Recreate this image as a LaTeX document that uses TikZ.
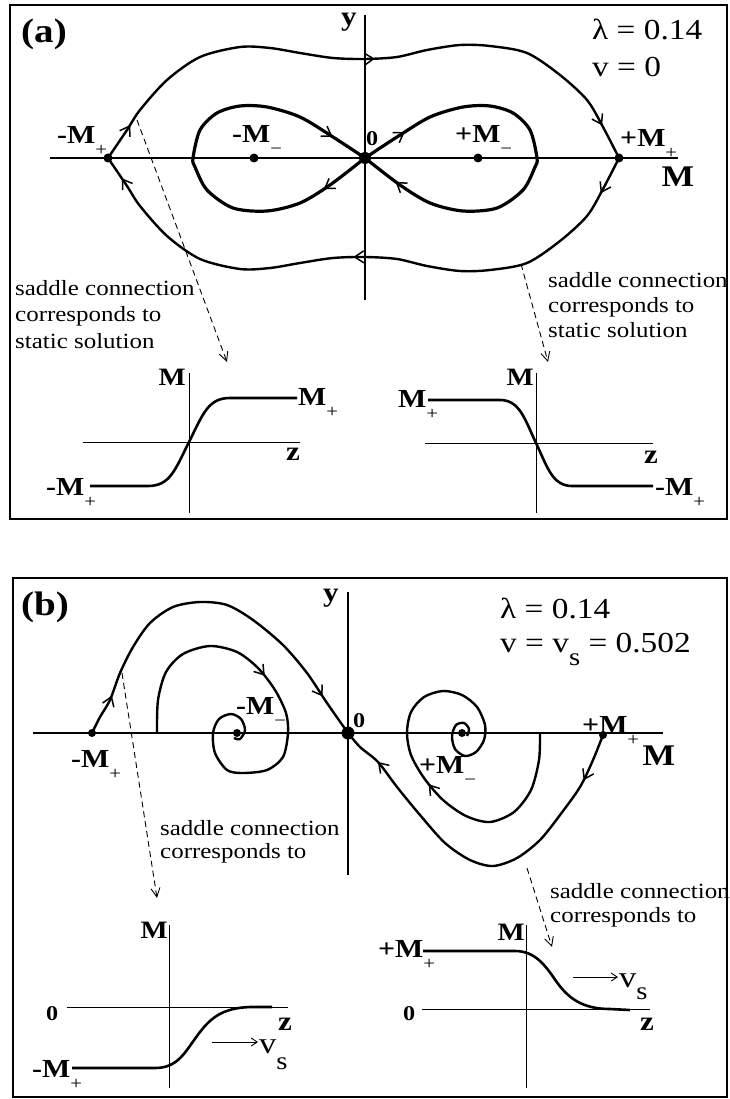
\documentclass[tikz,border=0pt]{standalone}
\usepackage{fontspec}
\setmainfont{Liberation Serif}[FakeStretch=1.15]
\usetikzlibrary{arrows.meta}
\usetikzlibrary{decorations.markings}

\newcommand{\lo}[1]{\raisebox{-12pt}{\fontsize{18}{18}\selectfont\mdseries #1}}
\newcommand{\fp}[2]{\textbf{#1}\lo{#2}}
\newcommand{\vs}[1]{v\raisebox{-#1}{\fontsize{25}{25}\selectfont s}}

\tikzset{
  panel/.style={line width=2.2pt},
  axis/.style={line width=1.2pt},
  faxis/.style={line width=0.9pt},
  orbit/.style={line width=2.4pt, line join=round},
  eight/.style={line width=3.2pt, line join=round},
  profile/.style={line width=2.6pt},
  fixpt/.style={circle, fill, inner sep=0pt, minimum size=#1},
  fixpt/.default=9pt,
  flow/.style={postaction={decorate, decoration={markings,
      mark=at position #1 with {\arrow{Straight Barb[length=9pt,width=12pt,line width=1.5pt]}}}}},
  hint/.style={dash pattern=on 6pt off 4pt, line width=0.9pt,
      -{Straight Barb[length=9pt,width=9pt,line width=0.9pt]}},
  speed/.style={line width=0.9pt, -{Straight Barb[length=6pt,width=8pt,line width=0.9pt]}},
  lbl/.style={inner sep=0pt, font=\fontsize{#1}{#1}\selectfont\bfseries},
  lbl/.default=26,
  note/.style={inner sep=0pt, align=left, font=\fontsize{21.7}{#1}\selectfont},
  note/.default=26,
}

\begin{document}
\begin{tikzpicture}[x=1pt, y=-1pt]
\useasboundingbox (0,0) rectangle (729,1099);

% ================= (a) v = 0 =================
\draw[panel] (10,5) rectangle (727,519);
\node[lbl=34, anchor=base west] (atag) at (21,43) {(a)};
\node[inner sep=0pt, align=left, anchor=base west, font=\fontsize{29}{37}\selectfont] (apar) at (592,77) {λ = 0.14\\v = 0};

\coordinate (aO)  at (365,158);
\coordinate (aSL) at (108,158);
\coordinate (aSR) at (619,158);
\coordinate (aCL) at (254,158);
\coordinate (aCR) at (478,158);

% axes
\draw[axis] (50,158) -- (678,158);
\draw[axis] (365,15) -- (365,300);
\node[lbl=30, anchor=base] (aMlab) at (678,187) {M};
\node[lbl=27, anchor=base] (aylab) at (349,26) {y};
\node[lbl=21, anchor=base west] (a0lab) at (366,146) {0};

% separatrices
\draw[orbit, flow=0.065, flow=0.515, flow=0.94] plot[smooth] coordinates {(aSL) (127,130) (140,110) (167,80) (200,57) (240,47) (270,48) (300,53) (333,58) (365,59) (397,57) (427,50) (460,45) (490,46) (527,53) (560,75) (587,100) (603,127) (aSR)};
\draw[orbit, flow=0.065, flow=0.52, flow=0.96] plot[smooth] coordinates {(aSR) (603,189) (587,216) (560,241) (527,263) (490,270) (460,271) (427,266) (397,259) (365,257) (333,258) (300,263) (270,268) (240,269) (200,259) (167,236) (140,206) (127,186) (aSL)};

% homoclinic loops
\draw[eight, flow=0.12, flow=0.91] plot[smooth] coordinates {(aO) (330,185) (300,203) (267,211) (233,208) (207,190) (195,167) (193,158) (200,130) (217,113) (240,106) (267,107) (300,117) (333,137) (aO)};
\draw[eight, flow=0.11, flow=0.91] plot[smooth] coordinates {(aO) (397,137) (430,117) (463,107) (490,106) (513,113) (530,130) (537,158) (535,167) (523,190) (497,208) (463,211) (430,203) (400,185) (aO)};

\node[fixpt=12pt] (aOdot) at (aO) {};
\node[fixpt] (aSLdot) at (aSL) {};
\node[fixpt] (aSRdot) at (aSR) {};
\node[fixpt] (aCLdot) at (aCL) {};
\node[fixpt] (aCRdot) at (aCR) {};
\node[lbl, anchor=base west] (aSLlab) at (57,144) {\fp{-M}{+}};
\node[lbl, anchor=base west] (aCLlab) at (232,143) {\fp{-M}{−}};
\node[lbl, anchor=base west] (aCRlab) at (455,143) {\fp{+M}{−}};
\node[lbl, anchor=base west] (aSRlab) at (620,147) {\fp{+M}{+}};

% remarks
\node[note=26.5, anchor=base west] (anoteL) at (15,348) {saddle connection\\corresponds to\\static solution};
\node[note=25, anchor=base west] (anoteR) at (548,337) {saddle connection\\corresponds to\\static solution};
\coordinate (aHL0) at (137,120);
\coordinate (aHL1) at (227,362);
\coordinate (aHR0) at (521,264);
\coordinate (aHR1) at (548,362);
\draw[hint] (aHL0) -- (aHL1);
\draw[hint] (aHR0) -- (aHR1);

% kink profile
\draw[faxis] (83,442) -- (300,442);
\draw[faxis] (189,373) -- (189,513);
\draw[profile] (90,486) -- (148,486) .. controls (170,486) and (175,470) .. (189,442) .. controls (203,414) and (208,398) .. (230,398) -- (297,398);
\node[lbl=25, anchor=base east] (akMl) at (186,385) {M};
\node[lbl=27, anchor=base] (akzl) at (293,460) {z};
\node[lbl, anchor=base west] (akTl) at (298,405) {\fp{M}{+}};
\node[lbl, anchor=base west] (akBl) at (46,495) {\fp{-M}{+}};

% antikink profile
\draw[faxis] (425,443) -- (653,443);
\draw[faxis] (536,373) -- (536,513);
\draw[profile] (428,400) -- (500,400) .. controls (520,400) and (525,420) .. (536,443) .. controls (547,466) and (552,486) .. (572,486) -- (653,486);
\node[lbl=25, anchor=base east] (akMr) at (534,385) {M};
\node[lbl=27, anchor=base] (akzr) at (651,463) {z};
\node[lbl, anchor=base west] (akTr) at (398,407) {\fp{M}{+}};
\node[lbl, anchor=base west] (akBr) at (655,495) {\fp{-M}{+}};

% ================= (b) v = v_s =================
\draw[panel] (13,578) rectangle (727,1097);
\node[lbl=34, anchor=base west] (btag) at (21,615) {(b)};
\node[inner sep=0pt, align=left, anchor=base west, font=\fontsize{29}{34}\selectfont] (bpar) at (500,652) {λ = 0.14\\v = \vs{13pt} = 0.502};

\coordinate (bO)  at (348,733);
\coordinate (bSL) at (92,733);
\coordinate (bSR) at (603,735);
\coordinate (bCL) at (237,733);
\coordinate (bCR) at (462,733);

\draw[axis] (33,733) -- (663,733);
\draw[axis] (348,592) -- (348,875);
\node[lbl=30, anchor=base] (bMlab) at (659,765) {M};
\node[lbl=27, anchor=base] (bylab) at (331,601) {y};
\node[lbl=21, anchor=base west] (b0lab) at (353,727) {0};

% saddle connections into 0
\draw[orbit, flow=0.11, flow=0.885] plot[smooth] coordinates {(bSL) (100,717) (110,700) (120,673) (133,647) (150,623) (173,607) (200,602) (227,605) (253,620) (283,645) (307,673) (327,703) (bO)};
\draw[orbit, flow=0.13, flow=0.89] plot[smooth] coordinates {(bSR) (593,760) (580,787) (560,815) (540,840) (517,858) (493,866) (470,860) (445,843) (420,815) (397,787) (378,762) (360,747) (bO)};

% spirals
\draw[orbit, flow=0.41] plot[smooth] coordinates {(157,733) (158,700) (166,672) (183,654) (210,646) (237,652) (258,668) (275,690) (286,713) (288,733) (283,757) (267,770) (243,773) (227,770) (215,753) (213,733) (219,719) (231,714) (241,719) (245,730) (240,739) (234,738)};
\draw[orbit, flow=0.40] plot[smooth] coordinates {(540,733) (539,760) (531,790) (514,812) (490,822) (466,816) (443,800) (424,778) (411,755) (407,733) (411,712) (424,697) (443,691) (462,695) (477,707) (485,725) (484,740) (476,752) (465,756) (455,749) (452,736) (456,725) (464,723) (469,729) (467,736)};

\node[fixpt=13pt] (bOdot) at (bO) {};
\node[fixpt=8pt] (bSLdot) at (bSL) {};
\node[fixpt=8pt] (bSRdot) at (bSR) {};
\node[fixpt=8pt] (bCLdot) at (bCL) {};
\node[fixpt=8pt] (bCRdot) at (bCR) {};
\node[lbl, anchor=base west] (bSLlab) at (71,767) {\fp{-M}{+}};
\node[lbl, anchor=base west] (bCLlab) at (236,714) {\fp{-M}{−}};
\node[lbl, anchor=base west] (bCRlab) at (419,773) {\fp{+M}{−}};
\node[lbl, anchor=base west] (bSRlab) at (582,733) {\fp{+M}{+}};

% remarks
\node[note=23, anchor=base west] (bnoteL) at (160,858) {saddle connection\\corresponds to};
\node[note=24, anchor=base west] (bnoteR) at (550,922) {saddle connection\\corresponds to};
\coordinate (bHL0) at (122,673);
\coordinate (bHL1) at (157,898);
\coordinate (bHR0) at (527,868);
\coordinate (bHR1) at (552,947);
\draw[hint] (bHL0) -- (bHL1);
\draw[hint] (bHR0) -- (bHR1);

% travelling front -M+ -> 0
\draw[faxis] (67,1007) -- (288,1007);
\draw[faxis] (169,925) -- (169,1088);
\draw[profile] (72,1068) -- (155,1068) .. controls (178,1068) and (185,1052) .. (197,1036) .. controls (210,1018) and (222,1008) .. (250,1007) -- (272,1007);
\node[lbl=25, anchor=base east] (bfMl) at (168,938) {M};
\node[lbl=27, anchor=base] (bfzl) at (285,1030) {z};
\node[lbl=21, anchor=base west] (bf0l) at (46,1020) {0};
\node[lbl, anchor=base west] (bfBl) at (32,1077) {\fp{-M}{+}};
\coordinate (bvL0) at (212,1042);
\coordinate (bvL1) at (258,1042);
\draw[speed] (bvL0) -- (bvL1);
\node[inner sep=0pt, anchor=base west, font=\fontsize{30}{30}\selectfont] (bvLl) at (259,1053) {\vs{16pt}};

% travelling front +M+ -> 0
\draw[faxis] (422,1009) -- (650,1009);
\draw[faxis] (526,925) -- (526,1088);
\draw[profile] (423,951) -- (515,951) .. controls (535,951) and (545,965) .. (556,981) .. controls (568,998) and (582,1009) .. (610,1009) -- (630,1010);
\node[lbl=25, anchor=base east] (bfMr) at (525,940) {M};
\node[lbl=27, anchor=base] (bfzr) at (647,1030) {z};
\node[lbl=21, anchor=base west] (bf0r) at (403,1020) {0};
\node[lbl, anchor=base west] (bfTr) at (378,957) {\fp{+M}{+}};
\coordinate (bvR0) at (573,977);
\coordinate (bvR1) at (618,977);
\draw[speed] (bvR0) -- (bvR1);
\node[inner sep=0pt, anchor=base west, font=\fontsize{30}{30}\selectfont] (bvRl) at (619,987) {\vs{12pt}};

\end{tikzpicture}
\end{document}
